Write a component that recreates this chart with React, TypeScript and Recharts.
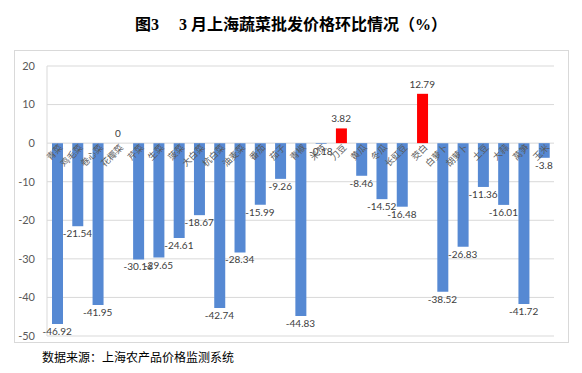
import React from "react";
import { ComposedChart, Bar, Line, XAxis, YAxis, CartesianGrid, Cell, LabelList } from "recharts";

const categories = [
  "青菜", "鸡毛菜", "卷心菜", "花椰菜", "芹菜", "生菜", "菠菜", "大白菜", "杭白菜", "油麦菜",
  "番茄", "茄子", "青椒", "米苋", "刀豆", "黄瓜", "冬瓜", "长豇豆", "茭白", "白萝卜",
  "胡萝卜", "土豆", "大蒜", "莴笋", "玉米",
];
const changes = [
  -46.92, -21.54, -41.95, 0, -30.16, -29.65, -24.61, -18.67, -42.74, -28.34,
  -15.99, -9.26, -44.83, -0.18, 3.82, -8.46, -14.52, -16.48, 12.79, -38.52,
  -26.83, -11.36, -16.01, -41.72, -3.8,
];
const yTicks = [-50, -40, -30, -20, -10, 0, 10, 20];
const title = "图3\u3000 3 月上海蔬菜批发价格环比情况（%）";
const source = "数据来源：上海农产品价格监测系统";

const data = categories.map((name, i) => ({ name, value: changes[i] }));

const BLUE = "#5689D3";
const RED = "#FF0000";
const NUM_FONT = "Lato, 'Liberation Sans', sans-serif";

const ValueLabel = (props: any) => {
  const { x, y, value } = props;
  if (x == null || y == null) return null;
  const ty = value < 0 ? y + 11 : y - 6;
  return (
    <text x={x} y={ty} textAnchor="middle" fontSize={10} fill="#404040" fontFamily={NUM_FONT}>
      {value}
    </text>
  );
};

const NameLabel = (props: any) => {
  const { x, y, value } = props;
  if (x == null || y == null) return null;
  const ex = x + 6;
  const ey = y + 5;
  return (
    <text
      x={ex}
      y={ey}
      textAnchor="end"
      fontSize={9}
      fill="#595959"
      fontFamily="'Noto Sans CJK SC', sans-serif"
      transform={`rotate(-45 ${ex} ${ey})`}
    >
      {value}
    </text>
  );
};

const zeroKey = () => 0;

export default function App() {
  return (
    <div style={{ position: "absolute", left: 0, top: 0, width: 582, height: 373, background: "#fff" }}>
      <div
        style={{
          position: "absolute",
          left: 0,
          top: 11,
          width: 582,
          textAlign: "center",
          fontSize: 16,
          fontWeight: "bold",
          fontFamily: "'Liberation Serif', 'Noto Sans CJK SC', serif",
          color: "#000",
        }}
      >
        {title}
      </div>
      <div
        style={{
          position: "absolute",
          left: 14,
          top: 50,
          width: 555,
          height: 293,
          border: "1px solid #D9D9D9",
          boxSizing: "border-box",
        }}
      />
      <div style={{ position: "absolute", left: 0, top: 0 }}>
        <ComposedChart
          width={582}
          height={373}
          data={data}
          margin={{ top: 66, right: 28, bottom: 37, left: 0 }}
          barSize={11}
        >
          <CartesianGrid vertical={false} stroke="#D9D9D9" />
          <XAxis dataKey="name" hide />
          <YAxis
            width={47}
            domain={[-50, 20]}
            ticks={yTicks}
            interval={0}
            axisLine={{ stroke: "#D9D9D9" }}
            tickLine={false}
            tick={{ fontSize: 11, fill: "#595959", fontFamily: NUM_FONT }}
            tickMargin={6}
          />
          <Bar dataKey="value" isAnimationActive={false}>
            {data.map((d, i) => (
              <Cell key={i} fill={d.value > 0 ? RED : BLUE} />
            ))}
          </Bar>
          <Line
            dataKey={zeroKey}
            stroke="none"
            dot={false}
            activeDot={false}
            isAnimationActive={false}
            legendType="none"
          >
            <LabelList dataKey="name" content={NameLabel} />
          </Line>
          <Line
            dataKey="value"
            stroke="none"
            dot={false}
            activeDot={false}
            isAnimationActive={false}
            legendType="none"
          >
            <LabelList dataKey="value" content={ValueLabel} />
          </Line>
        </ComposedChart>
      </div>
      <div
        style={{
          position: "absolute",
          left: 42,
          top: 348,
          fontSize: 12,
          fontFamily: "'Noto Sans CJK SC', sans-serif",
          color: "#000",
        }}
      >
        {source}
      </div>
    </div>
  );
}
